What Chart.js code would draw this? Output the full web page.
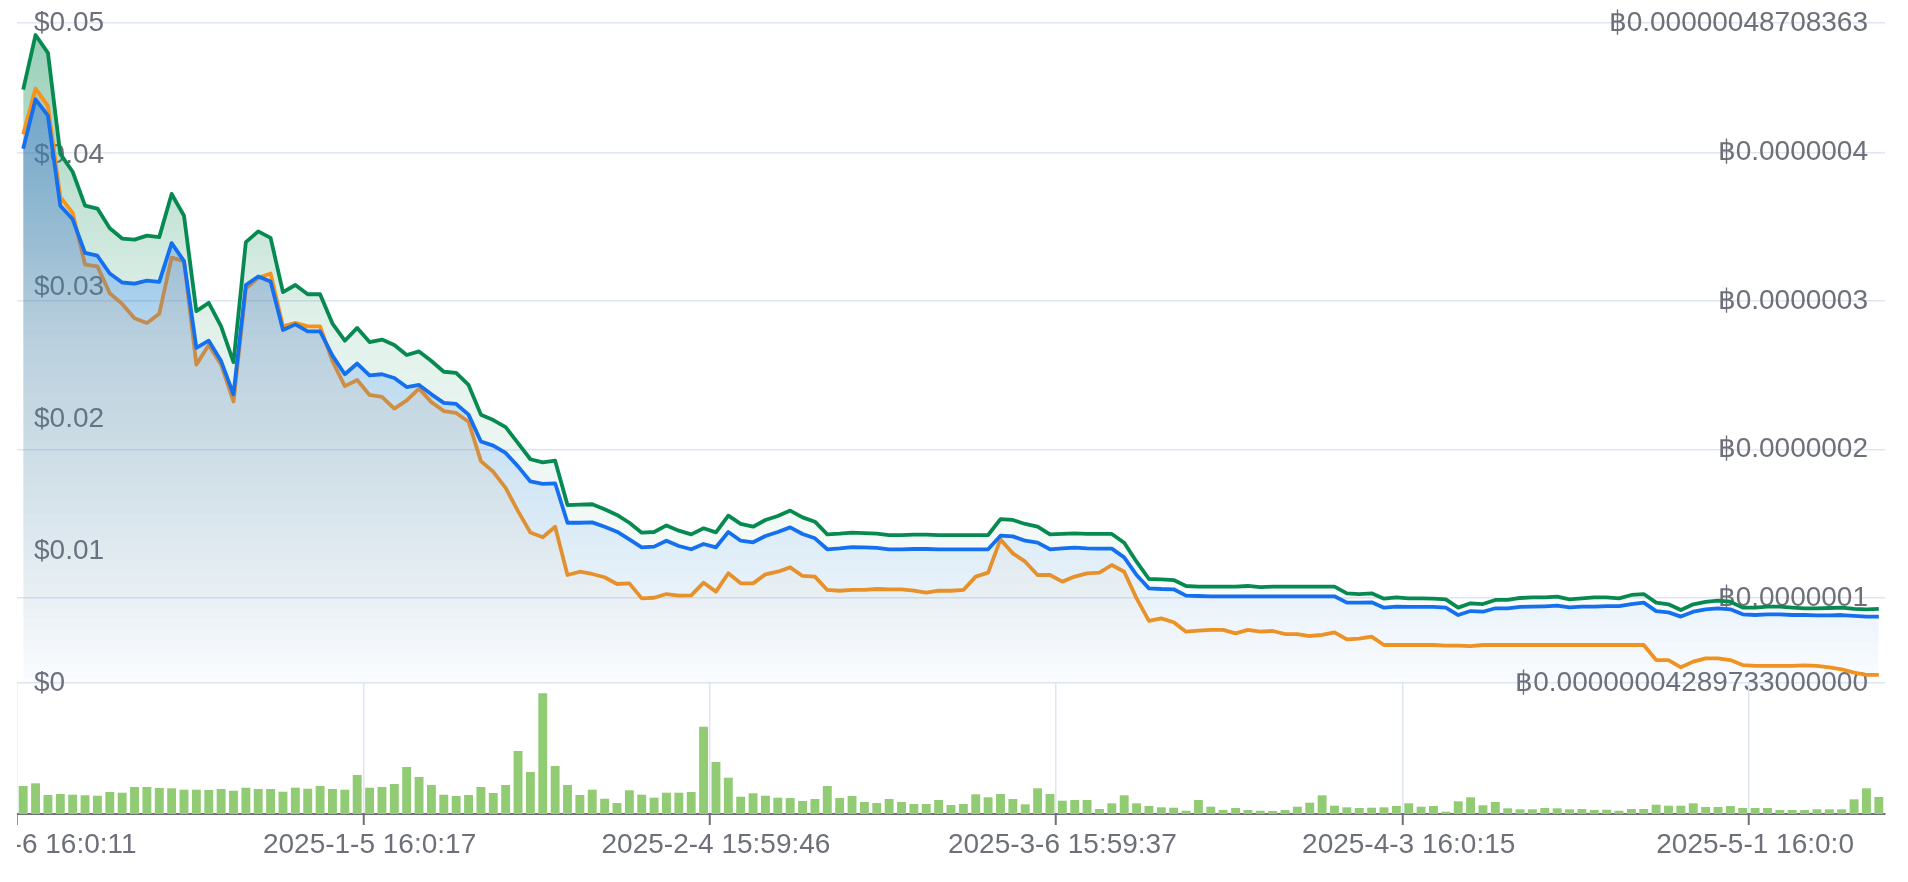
<!DOCTYPE html>
<html>
<head>
<meta charset="utf-8">
<script src="https://cdn.jsdelivr.net/npm/chart.js@4.4.1/dist/chart.umd.min.js"></script>
<style>
  html, body { margin: 0; padding: 0; background: #fff; overflow: hidden; }
  #wrap { position: relative; width: 1908px; height: 882px; }
  #price { position: absolute; left: 0; top: 0; }
  #vol { position: absolute; left: 17px; top: 683px; }
</style>
</head>
<body>
<div id="wrap">
  <canvas id="price" width="1908" height="720"></canvas>
  <canvas id="vol" width="1891" height="199"></canvas>
</div>
<script>
// ── tick labels ────────────────────────────────
const tickLabels = ['2024-12-6 16:0:11', '2025-1-5 16:0:17', '2025-2-4 15:59:46',
                    '2025-3-6 15:59:37', '2025-4-3 16:0:15', '2025-5-1 16:0:0'];
const tickEvery = 28;

const leftTicks      = [0, 0.01, 0.02, 0.03, 0.04, 0.05];
const leftTickLabels = ['$0', '$0.01', '$0.02', '$0.03', '$0.04', '$0.05'];

const rightTicks      = [0.00000004289733, 0.0000001, 0.0000002, 0.0000003, 0.0000004, 0.00000048708363];
const rightTickLabels = ['฿0.00000004289733000000', '฿0.0000001', '฿0.0000002',
                         '฿0.0000003', '฿0.0000004', '฿0.00000048708363'];

// ── series ($) ─────────────────────────────────
const greenLine = [
  0.04495,0.04909,0.04774,0.04008,0.03873,0.03616,0.03594,0.03445,0.03367,0.03359,
  0.03389,0.03378,0.03705,0.03540,0.02817,0.02880,0.02702,0.02431,0.03340,0.03421,
  0.03372,0.02961,0.03015,0.02945,0.02945,0.02723,0.02593,0.02690,0.02583,0.02602,
  0.02561,0.02485,0.02512,0.02439,0.02358,0.02349,0.02258,0.02033,0.01992,0.01939,
  0.01817,0.01695,0.01672,0.01684,0.01348,0.01351,0.01354,0.01316,0.01273,0.01214,
  0.01139,0.01144,0.01194,0.01154,0.01126,0.01172,0.01141,0.01268,0.01205,0.01184,
  0.01235,0.01265,0.01306,0.01255,0.01222,0.01126,0.01131,0.01139,0.01136,0.01131,
  0.01121,0.01121,0.01124,0.01124,0.01121,0.01121,0.01121,0.01121,0.01121,0.01242,
  0.01235,0.01205,0.01184,0.01126,0.01129,0.01134,0.01129,0.01129,0.01129,0.01063,
  0.00919,0.00788,0.00785,0.00780,0.00735,0.00730,0.00730,0.00730,0.00730,0.00735,
  0.00727,0.00730,0.00730,0.00730,0.00730,0.00730,0.00730,0.00679,0.00674,0.00679,
  0.00639,0.00649,0.00641,0.00641,0.00639,0.00634,0.00571,0.00604,0.00598,0.00629,
  0.00629,0.00644,0.00649,0.00649,0.00654,0.00634,0.00641,0.00649,0.00649,0.00641,
  0.00667,0.00674,0.00609,0.00596,0.00553,0.00596,0.00614,0.00624,0.00616,0.00571,
  0.00571,0.00578,0.00578,0.00571,0.00566,0.00566,0.00568,0.00571,0.00561,0.00558,
  0.00561
];

const blueLine = [
  0.04048,0.04422,0.04298,0.03616,0.03513,0.03258,0.03237,0.03102,0.03034,0.03026,
  0.03048,0.03039,0.03332,0.03196,0.02539,0.02593,0.02439,0.02187,0.03015,0.03080,
  0.03042,0.02674,0.02717,0.02664,0.02664,0.02480,0.02339,0.02420,0.02330,0.02339,
  0.02311,0.02242,0.02258,0.02187,0.02122,0.02114,0.02033,0.01830,0.01798,0.01743,
  0.01641,0.01527,0.01508,0.01513,0.01214,0.01214,0.01217,0.01184,0.01146,0.01088,
  0.01028,0.01033,0.01078,0.01038,0.01013,0.01053,0.01028,0.01144,0.01078,0.01066,
  0.01114,0.01144,0.01179,0.01129,0.01096,0.01013,0.01020,0.01030,0.01028,0.01023,
  0.01013,0.01013,0.01015,0.01015,0.01013,0.01013,0.01013,0.01013,0.01013,0.01116,
  0.01111,0.01078,0.01063,0.01013,0.01020,0.01025,0.01020,0.01018,0.01018,0.00952,
  0.00818,0.00717,0.00712,0.00710,0.00662,0.00659,0.00657,0.00657,0.00657,0.00657,
  0.00657,0.00657,0.00657,0.00657,0.00657,0.00657,0.00657,0.00609,0.00609,0.00611,
  0.00571,0.00578,0.00576,0.00576,0.00576,0.00571,0.00515,0.00545,0.00540,0.00566,
  0.00566,0.00576,0.00578,0.00581,0.00586,0.00573,0.00578,0.00578,0.00583,0.00583,
  0.00598,0.00609,0.00545,0.00535,0.00503,0.00540,0.00558,0.00566,0.00558,0.00520,
  0.00515,0.00520,0.00520,0.00515,0.00515,0.00513,0.00513,0.00515,0.00508,0.00503,
  0.00503
];

const orangeLine = [
  0.04157,0.04503,0.04373,0.03683,0.03561,0.03170,0.03156,0.02953,0.02872,0.02764,
  0.02728,0.02798,0.03223,0.03196,0.02412,0.02561,0.02412,0.02133,0.02988,0.03069,
  0.03102,0.02702,0.02728,0.02702,0.02702,0.02439,0.02249,0.02295,0.02182,0.02168,
  0.02079,0.02141,0.02230,0.02128,0.02060,0.02046,0.01979,0.01681,0.01600,0.01478,
  0.01302,0.01140,0.01104,0.01184,0.00818,0.00843,0.00826,0.00801,0.00750,0.00755,
  0.00641,0.00646,0.00674,0.00662,0.00664,0.00760,0.00692,0.00831,0.00755,0.00755,
  0.00823,0.00843,0.00876,0.00811,0.00806,0.00705,0.00699,0.00705,0.00705,0.00712,
  0.00710,0.00710,0.00699,0.00684,0.00699,0.00699,0.00705,0.00806,0.00836,0.01088,
  0.00982,0.00919,0.00818,0.00818,0.00768,0.00806,0.00831,0.00836,0.00894,0.00843,
  0.00641,0.00470,0.00490,0.00460,0.00389,0.00396,0.00402,0.00402,0.00376,0.00402,
  0.00389,0.00394,0.00371,0.00371,0.00356,0.00364,0.00384,0.00331,0.00336,0.00351,
  0.00288,0.00288,0.00288,0.00288,0.00288,0.00283,0.00283,0.00280,0.00288,0.00288,
  0.00288,0.00288,0.00288,0.00288,0.00288,0.00288,0.00288,0.00288,0.00288,0.00288,
  0.00288,0.00288,0.00174,0.00174,0.00119,0.00162,0.00187,0.00187,0.00174,0.00136,
  0.00129,0.00129,0.00129,0.00129,0.00134,0.00129,0.00119,0.00104,0.00078,0.00061,
  0.00061
];

// volume (k)
const volume = [
  28,30.7,19,20,19.3,18.7,18.3,22,21.3,27,
  27,26,25.7,24.3,24.3,24,25,23.3,26.3,25,
  25,22.3,26.3,25.3,28,25,24.3,39,26.3,27,
  30,47,37,29,19.3,18,19,27,21,29,
  63,42,120.7,48,29,19,24.3,15.3,11,23.7,
  19.3,16.3,21.3,21.3,22,87.3,52,36.3,17.3,20.7,
  18.3,16.3,16,13,15,28,16,18,12,11,
  15,12,10,10,14,9,10,19.7,16.7,20,
  15,9.7,25.7,20,13.3,14,14,5,10.7,18.7,
  10.7,8,6.7,6.3,3.3,14,7.3,4,6,4,
  3.3,3,4,7.3,11.3,18.7,8.3,6.7,6,6.3,
  6.7,8,10.7,7.3,8,2.3,12.7,16.7,8.7,12,
  5.7,4.7,4.7,6,5.7,4.7,5,4,4.3,3.3,
  5,5,9.3,8.3,8.3,10.7,7,7,8,6,
  6,6,4,4,4,4.7,4.7,4.7,14.7,25.7,
  17
];
const volumeMax = 131;

const categories = greenLine.map((_, i) => i);

// ── styles ─────────────────────────────────────
const FONT  = { family: '"Liberation Sans", Arial, sans-serif', size: 28 };
const TEXT  = '#6E7079';
const GRID  = '#E0E6F1';
const CLEAR = 'rgba(0,0,0,0)';

function fade(rgb, stops) {
  return context => {
    const { ctx, chartArea } = context.chart;
    if (!chartArea) return `rgba(${rgb},0)`;
    const g = ctx.createLinearGradient(0, chartArea.top, 0, chartArea.bottom);
    stops.forEach(([at, a]) => g.addColorStop(at, `rgba(${rgb},${a})`));
    return g;
  };
}

const flatY = s => { s.width = 0; s.paddingTop = 0; s.paddingBottom = 0; };

// ── price chart ────────────────────────────────
new Chart(document.getElementById('price'), {
  type: 'line',
  data: {
    labels: categories,
    datasets: [
      { data: blueLine,   borderColor: '#1570EF', fill: 'origin',
        backgroundColor: fade('22,119,255', [[0, 0.5], [0.5, 0.2], [1, 0.02]]) },
      { data: orangeLine, borderColor: '#F7931A', fill: 'origin',
        backgroundColor: fade('247,147,26', [[0, 0.22], [0.5, 0.1], [1, 0]]) },
      { data: greenLine,  borderColor: '#078A52', fill: 'origin',
        backgroundColor: fade('7,138,82', [[0, 0.42], [0.45, 0.12], [1, 0]]) }
    ]
  },
  options: {
    responsive: false,
    animation: false,
    layout: { padding: { left: 17, right: 23, top: 23, bottom: 37 } },
    elements: {
      point: { radius: 0 },
      line: { borderWidth: 3.8, tension: 0, borderJoinStyle: 'round' }
    },
    plugins: { legend: { display: false }, tooltip: { enabled: false } },
    scales: {
      x: { type: 'category', offset: true, display: false },
      y: {
        position: 'left', min: 0, max: 0.05,
        afterFit: flatY,
        afterBuildTicks: s => { s.ticks = leftTicks.map(v => ({ value: v })); },
        grid: { display: false },
        border: { display: false },
        ticks: { mirror: true, padding: 17, color: TEXT, font: FONT,
                 callback: (v, i) => leftTickLabels[i] }
      },
      y1: {
        position: 'right', min: rightTicks[0], max: rightTicks[rightTicks.length - 1],
        afterFit: flatY,
        afterBuildTicks: s => { s.ticks = rightTicks.map(v => ({ value: v })); },
        grid: { color: GRID, lineWidth: 1.5, drawTicks: false },
        border: { display: false },
        ticks: { mirror: true, padding: -17, color: TEXT, font: FONT,
                 callback: (v, i) => rightTickLabels[i] }
      }
    }
  }
});

// ── volume chart ───────────────────────────────
new Chart(document.getElementById('vol'), {
  type: 'bar',
  data: {
    labels: categories,
    datasets: [{ data: volume, backgroundColor: '#91CC75' }]
  },
  options: {
    responsive: false,
    animation: false,
    layout: { padding: { left: 0, right: 23, top: 0, bottom: 0 } },
    plugins: { legend: { display: false }, tooltip: { enabled: false } },
    scales: {
      x: {
        offset: true,
        afterFit: s => { s.height = 68; s.paddingLeft = 0; s.paddingRight = 0; },
        grid: {
          offset: true, lineWidth: 1.5, tickWidth: 2, tickLength: 11,
          color: c => c.index % tickEvery === 0 ? GRID : CLEAR,
          tickColor: c => c.index % tickEvery === 0 ? TEXT : CLEAR
        },
        border: { color: TEXT, width: 2 },
        ticks: {
          autoSkip: false, maxRotation: 0, minRotation: 0, padding: 3,
          color: TEXT, font: FONT,
          callback: (v, i) => i % tickEvery === 0 ? tickLabels[i / tickEvery] : ''
        }
      },
      y: { display: false, min: 0, max: volumeMax }
    }
  }
});
</script>
</body>
</html>
